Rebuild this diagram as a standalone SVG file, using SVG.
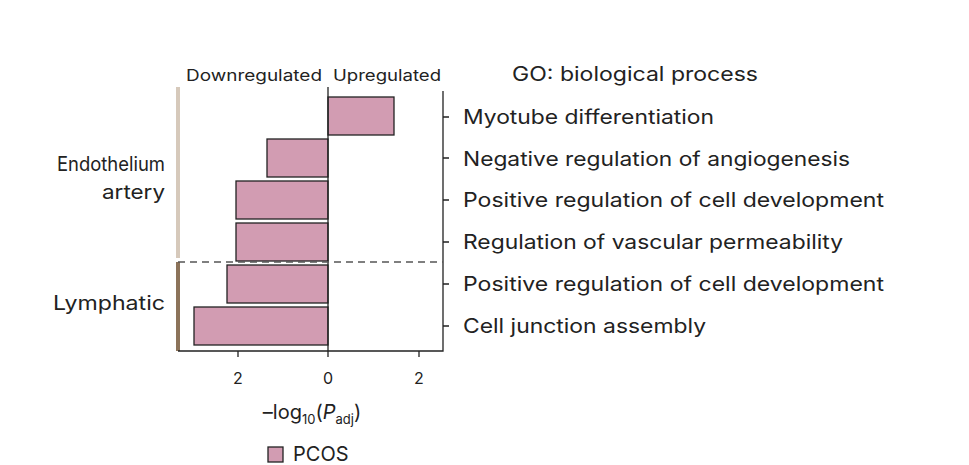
<svg xmlns="http://www.w3.org/2000/svg" width="969" height="465" viewBox="0 0 969 465">
<style>
text{font-family:"Inter","Liberation Sans",sans-serif;fill:#222}
.bar{fill:#d29cb2;stroke:#222;stroke-width:1.3}
.ax{stroke:#222;stroke-width:1.3;fill:none}
.lab{font-size:20px}
.sm{font-size:16px}
</style>
<rect width="969" height="465" fill="#fff"/>
<g id="headers">
<text x="186" y="81" class="sm" textLength="136" lengthAdjust="spacingAndGlyphs">Downregulated</text>
<text x="333" y="81" class="sm" textLength="108" lengthAdjust="spacingAndGlyphs">Upregulated</text>
<text x="512" y="81" class="lab" textLength="246" lengthAdjust="spacingAndGlyphs">GO: biological process</text>
</g>
<g id="groups">
<rect x="176" y="87" width="4" height="171" fill="#d6c9bb"/>
<rect x="176" y="262" width="4" height="89" fill="#8c735a"/>
<text x="165" y="171" class="lab" text-anchor="end" textLength="108" lengthAdjust="spacingAndGlyphs">Endothelium</text>
<text x="165" y="199" class="lab" text-anchor="end" textLength="63" lengthAdjust="spacingAndGlyphs">artery</text>
<text x="165" y="310" class="lab" text-anchor="end" textLength="112" lengthAdjust="spacingAndGlyphs">Lymphatic</text>
</g>
<g id="bars">
<rect class="bar" x="328" y="97" width="66" height="38"/>
<rect class="bar" x="267" y="139" width="61" height="38"/>
<rect class="bar" x="236" y="181" width="92" height="38"/>
<rect class="bar" x="236" y="223" width="92" height="38"/>
<rect class="bar" x="227" y="265" width="101" height="38"/>
<rect class="bar" x="194" y="307" width="134" height="38"/>
</g>
<g id="connectors">
<line class="ax" x1="328" y1="87" x2="328" y2="351"/>
<path class="ax" d="M178 351H443V91"/>
<line x1="178" y1="262" x2="443" y2="262" stroke="#555" stroke-width="1.3" stroke-dasharray="7,5"/>
<path class="ax" d="M443 117h6M443 158h6M443 200h6M443 242h6M443 284h6M443 326h6M238 351v6M328 351v6M419 351v6"/>
</g>
<g id="ticks">
<text x="238" y="384" class="sm" text-anchor="middle">2</text>
<text x="328" y="384" class="sm" text-anchor="middle">0</text>
<text x="419" y="384" class="sm" text-anchor="middle">2</text>
<text x="312" y="419" class="lab" text-anchor="middle">–log<tspan font-size="13" dy="5">10</tspan><tspan dy="-5">(</tspan><tspan font-style="italic">P</tspan><tspan font-size="13" dy="5">adj</tspan><tspan dy="-5">)</tspan></text>
</g>
<g id="terms">
<text x="463" y="124" class="lab" textLength="251" lengthAdjust="spacingAndGlyphs">Myotube differentiation</text>
<text x="463" y="166" class="lab" textLength="387" lengthAdjust="spacingAndGlyphs">Negative regulation of angiogenesis</text>
<text x="463" y="207" class="lab" textLength="421" lengthAdjust="spacingAndGlyphs">Positive regulation of cell development</text>
<text x="463" y="249" class="lab" textLength="380" lengthAdjust="spacingAndGlyphs">Regulation of vascular permeability</text>
<text x="463" y="291" class="lab" textLength="421" lengthAdjust="spacingAndGlyphs">Positive regulation of cell development</text>
<text x="463" y="333" class="lab" textLength="243" lengthAdjust="spacingAndGlyphs">Cell junction assembly</text>
</g>
<g id="legend">
<rect class="bar" x="268" y="447" width="15" height="15"/>
<text x="293" y="461" class="lab">PCOS</text>
</g>
</svg>
